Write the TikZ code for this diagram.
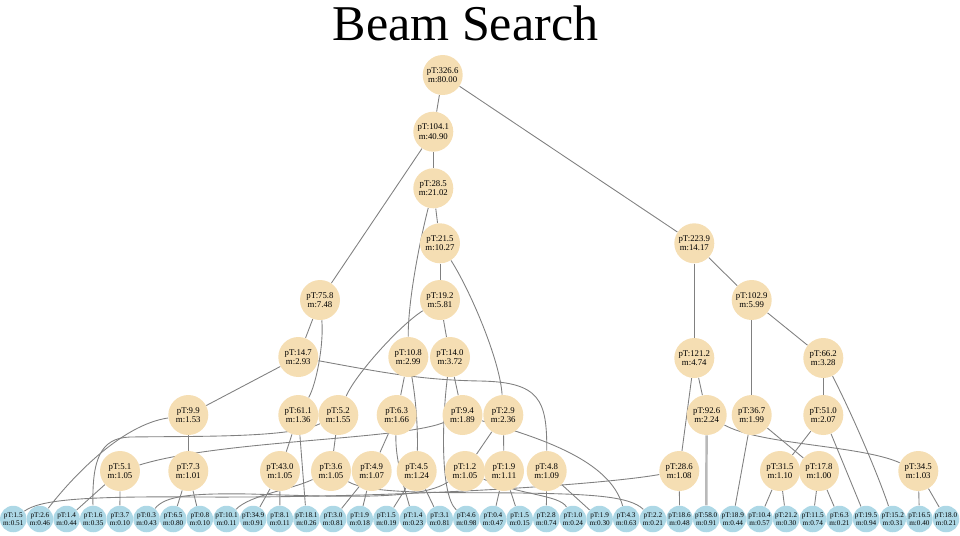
\documentclass[tikz,border=0pt]{standalone}
\usepackage{fontspec}
\setmainfont{Liberation Serif}
\pgfdeclarelayer{back}
\pgfsetlayers{back,main}
\definecolor{beamfill}{HTML}{F5DEB3}
\definecolor{leaffill}{HTML}{ADD8E6}
\definecolor{edgegray}{HTML}{808080}
\tikzset{
  beam/.style={circle,fill=beamfill,minimum size=0.8cm,inner sep=0pt,align=center,font=\fontsize{5}{5.5}\selectfont},
  leaf/.style={circle,fill=leaffill,minimum size=0.53cm,inner sep=0pt,align=center,font=\fontsize{4.1}{4.5}\selectfont},
  branch/.style={draw=edgegray,line width=0.5pt},
  best/.style={draw=edgegray!55,line width=1.4pt}
}

\begin{document}
\begin{tikzpicture}[x=0.02cm,y=-0.02cm]
  \useasboundingbox (0,0) rectangle (960,535);

  \node [font=\fontsize{28.5}{30}\selectfont,anchor=base] at(465.5,40) (title) {Beam Search};

  % expanded beams
  \node [beam] at(442.7,75) (n_3266) {pT:326.6\\m:80.00};
  \node [beam] at(433.3,131.7) (n_1041) {pT:104.1\\m:40.90};
  \node [beam] at(433.3,188.3) (n_285) {pT:28.5\\m:21.02};
  \node [beam] at(440,243.3) (n_215) {pT:21.5\\m:10.27};
  \node [beam] at(694.3,243.3) (n_2239) {pT:223.9\\m:14.17};
  \node [beam] at(320,300) (n_758) {pT:75.8\\m:7.48};
  \node [beam] at(440,300) (n_192) {pT:19.2\\m:5.81};
  \node [beam] at(751.7,300) (n_1029) {pT:102.9\\m:5.99};
  \node [beam] at(298.3,357) (n_147) {pT:14.7\\m:2.93};
  \node [beam] at(408.3,357) (n_108) {pT:10.8\\m:2.99};
  \node [beam] at(450,357) (n_140) {pT:14.0\\m:3.72};
  \node [beam] at(694.3,358) (n_1212) {pT:121.2\\m:4.74};
  \node [beam] at(823.3,358) (n_662) {pT:66.2\\m:3.28};

  \node [beam] at(188.3,415) (n_99) {pT:9.9\\m:1.53};
  \node [beam] at(298.3,415) (n_611) {pT:61.1\\m:1.36};
  \node [beam] at(338.3,415) (n_52) {pT:5.2\\m:1.55};
  \node [beam] at(396.7,415) (n_63) {pT:6.3\\m:1.66};
  \node [beam] at(462.5,415) (n_94) {pT:9.4\\m:1.89};
  \node [beam] at(503.3,415) (n_29) {pT:2.9\\m:2.36};
  \node [beam] at(706.7,415) (n_926) {pT:92.6\\m:2.24};
  \node [beam] at(751.7,415) (n_367) {pT:36.7\\m:1.99};
  \node [beam] at(823.3,415) (n_510) {pT:51.0\\m:2.07};

  \node [beam] at(120,471) (n_51) {pT:5.1\\m:1.05};
  \node [beam] at(188.3,471) (n_73) {pT:7.3\\m:1.01};
  \node [beam] at(280,471) (n_430) {pT:43.0\\m:1.05};
  \node [beam] at(331,471) (n_36) {pT:3.6\\m:1.05};
  \node [beam] at(371.7,471) (n_49) {pT:4.9\\m:1.07};
  \node [beam] at(416.7,471) (n_45) {pT:4.5\\m:1.24};
  \node [beam] at(465,471) (n_12) {pT:1.2\\m:1.05};
  \node [beam] at(504,471) (n_19) {pT:1.9\\m:1.11};
  \node [beam] at(546.7,471) (n_48) {pT:4.8\\m:1.09};
  \node [beam] at(679.3,471) (n_286) {pT:28.6\\m:1.08};
  \node [beam] at(780,471) (n_315) {pT:31.5\\m:1.10};
  \node [beam] at(819,471) (n_178) {pT:17.8\\m:1.00};
  \node [beam] at(918.3,471) (n_345) {pT:34.5\\m:1.03};

  % final candidates
  \foreach \pt/\m [count=\i] in {1.5/0.51,2.6/0.46,1.4/0.44,1.6/0.35,3.7/0.10,0.3/0.43,6.5/0.80,0.8/0.10,%
      10.1/0.11,34.9/0.91,8.1/0.11,18.1/0.26,3.0/0.81,1.9/0.18,1.5/0.19,1.4/0.23,3.1/0.81,4.6/0.98,%
      0.4/0.47,1.5/0.15,2.8/0.74,1.0/0.24,1.9/0.30,4.3/0.63,2.2/0.21,18.6/0.48,58.0/0.91,18.9/0.44,%
      10.4/0.57,21.2/0.30,11.5/0.74,6.3/0.21,19.5/0.94,15.2/0.31,16.5/0.40,18.0/0.21}{
    \node [leaf] at({13.3+26.65*(\i-1)},519) (l\i) {pT:\pt\\m:\m};
  }

  \begin{pgfonlayer}{back}
    \foreach \a/\b in {n_3266/n_1041,n_3266/n_2239,n_1041/n_285,n_1041/n_758,n_285/n_215,n_215/n_192,%
        n_2239/n_1212,n_2239/n_1029,n_758/n_147,n_192/n_140,n_1029/n_367,n_1029/n_662,n_147/n_99,%
        n_108/n_63,n_140/n_94,n_1212/n_286,n_1212/n_926,n_662/n_510,n_99/n_73,n_611/n_430,n_611/l12,%
        n_52/n_36,n_63/n_49,n_29/n_12,n_29/n_19,n_367/l28,n_367/n_178,n_510/n_315,n_510/l33,%
        n_51/l3,n_51/l5,n_73/l7,n_73/l8,n_430/l10,n_430/l11,n_49/l13,n_49/l14,n_45/l15,n_45/l17,%
        n_19/l19,n_19/l20,n_48/l21,n_48/l23,n_286/l26,n_315/l29,n_315/l30,n_178/l31,n_178/l32,%
        n_345/l35,n_345/l36}
      \draw [branch] (\a) -- (\b);

    \draw [best] (n_926) -- (l27);

    \draw [branch] (n_285) .. controls (420,240) and (408,300) .. (n_108);
    \draw [branch] (n_215) .. controls (470,290) and (500,360) .. (n_29);
    \draw [branch] (n_758) .. controls (324,345) and (316,385) .. (n_611);
    \draw [branch] (n_192) .. controls (400,325) and (355,375) .. (n_52);
    \draw [branch] (n_147) .. controls (380,372) and (420,380) .. (480,381) .. controls (540,382) and (547,400) .. (n_48);
    \draw [branch] (n_108) .. controls (416,400) and (418,430) .. (n_45);
    \draw [branch] (n_140) .. controls (442,420) and (440,495) .. (l18);
    \draw [branch] (n_662) .. controls (855,420) and (880,480) .. (l34);
    \draw [branch] (n_99) .. controls (120,425) and (70,480) .. (l2);
    \draw [branch] (n_52) .. controls (290,438) and (200,436) .. (130,437) .. controls (100,438) and (92,460) .. (l4);
    \draw [branch] (n_63) .. controls (395,460) and (405,490) .. (l16);
    \draw [branch] (n_94) .. controls (400,440) and (220,440) .. (n_51);
    \draw [branch] (n_94) .. controls (540,438) and (610,460) .. (l24);
    \draw [branch] (n_926) .. controls (760,445) and (860,445) .. (n_345);
    \draw [branch] (n_36) .. controls (290,490) and (250,495) .. (l9);
    \draw [branch] (n_36) .. controls (370,495) and (450,492) .. (520,493) .. controls (590,494) and (630,496) .. (l25);
    \draw [branch] (n_12) .. controls (420,500) and (350,497) .. (250,494) .. controls (190,493) and (165,496) .. (l6);
    \draw [branch] (n_12) .. controls (520,495) and (560,495) .. (l22);
    \draw [branch] (n_286) .. controls (600,485) and (400,498) .. (200,497) .. controls (80,496) and (40,500) .. (l1);
  \end{pgfonlayer}
\end{tikzpicture}
\end{document}
